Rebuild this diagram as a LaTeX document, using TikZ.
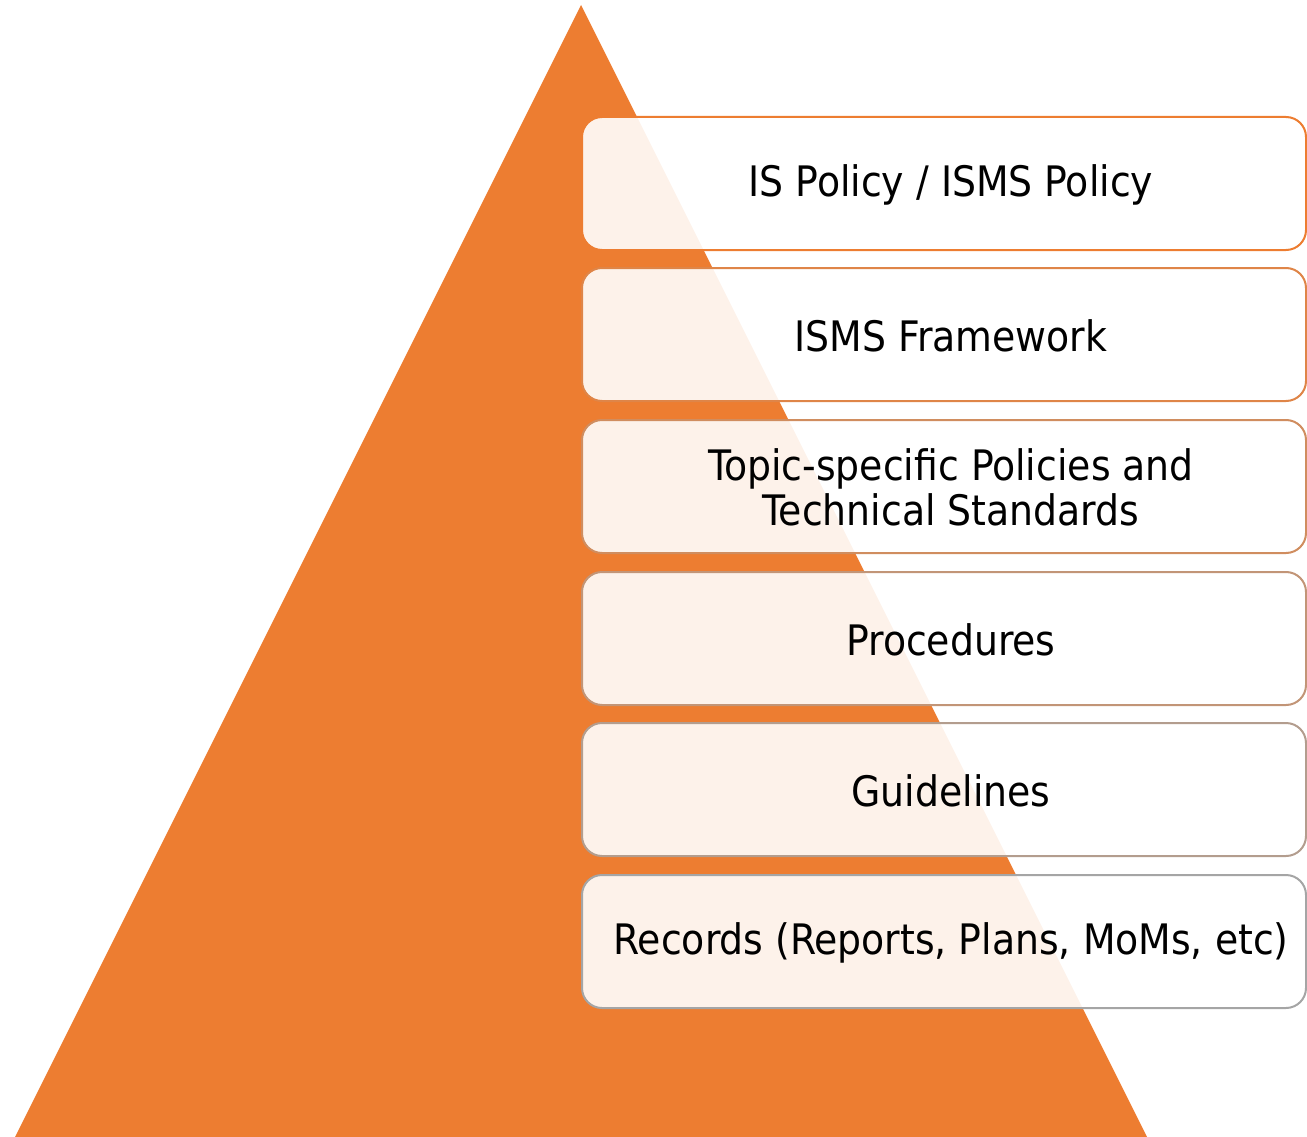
\documentclass[tikz,border=0pt]{standalone}
\usepackage{fontspec}
\setmainfont{DejaVu Sans Condensed}
\definecolor{pyr}{HTML}{ED7D31}
\definecolor{gry}{HTML}{A5A5A5}
\tikzset{
  tier/.style={draw=#1, line width=2pt, rounded corners=20pt, fill=white, fill opacity=0.9},
  tiertext/.style={font=\fontsize{42}{45}\selectfont, align=center, text=black, inner sep=0pt}
}
\begin{document}
\begin{tikzpicture}[x=1pt, y=-1pt]
  \useasboundingbox (0,0) rectangle (1307,1137);
  % pyramid
  \fill[pyr] (581,5) coordinate (apex) -- (15,1137) -- (1147,1137) -- cycle;
  % tiers, top to bottom; outline shifts from orange to grey
  \foreach \i/\top/\c/\txt in {
      0/117/0/{IS Policy / ISMS Policy},
      1/268/20/{ISMS Framework},
      2/420/40/{Topic-specific Policies and\\Technical Standards},
      3/572/60/{Procedures},
      4/723/80/{Guidelines},
      5/875/100/{Records (Reports, Plans, MoMs, etc)}} {
    \draw[tier=gry!\c!pyr] (582,\top) rectangle (1306,\top+133);
    \node[tiertext] (t\i) at (951,\top+67.5) {\txt};
  }
\end{tikzpicture}
\end{document}
